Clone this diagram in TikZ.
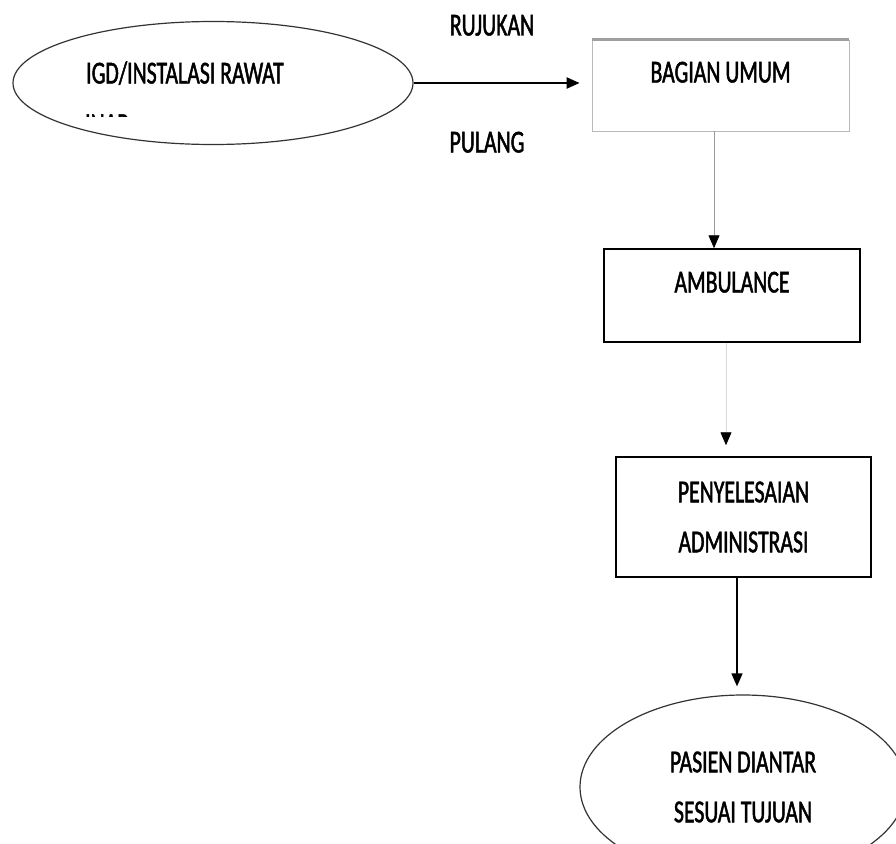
\documentclass[tikz,border=0pt]{standalone}
\usepackage{fontspec}
\setmainfont{Carlito}[FakeStretch=0.68, FakeBold=1.5]
\usepackage{tikz}
\usetikzlibrary{arrows.meta, shapes, positioning, calc}
\newcommand{\flowfont}{\fontsize{32pt}{50pt}\selectfont}
\tikzset{
    procbox/.style = {draw, rectangle, line width=1.5pt, inner sep=0em, node distance=0em, font=\flowfont},
    upperbox/.style = {procbox, text height=21pt, text depth=27pt},
    ellipsenode/.style = {draw=black!80, ellipse, line width=1.2pt, inner sep=0em, node distance=0em,
      font=\flowfont, align=center},
    textnode/.style = {draw=none, fill=none, rectangle, inner sep=0em, node distance=0em,
      text height=21pt, text depth=0pt, font=\flowfont},
    connect/.style = {black, line width=1.5pt, -{Triangle[length=13pt, width=11pt, color=black]}}
}

\begin{document}
\begin{tikzpicture}[x=1pt, y=-1pt]
\useasboundingbox (0,0) rectangle (896,843);
\clip (0,0) rectangle (896,843);

\node [ellipsenode, name=igd, minimum width=400pt, minimum height=123pt] at (213,83) {};
\node [textnode, name=igdtext, anchor=west] at (86,73) {IGD/INSTALASI RAWAT};
\begin{scope}
\clip (60,100) rectangle (300,116);
\node [textnode, name=inap, anchor=west] at (85,124.5) {INAP};
\end{scope}

\node [upperbox, name=bagian, draw=gray!55, line width=0.8pt, minimum width=257pt, minimum height=91pt,
    right of = igd, xshift=507.5pt, yshift=-2.5pt] {BAGIAN UMUM};
\draw [gray!75, line width=3pt] (bagian.north west) -- (bagian.north east);

\node [upperbox, name=ambulance, minimum width=256pt, minimum height=93pt,
    below of = bagian, xshift=11.5pt, yshift=-210pt] {AMBULANCE};
\node [procbox, name=penyelesaian, align=center, minimum width=255pt, minimum height=120pt,
    below of = ambulance, xshift=11.5pt, yshift=-221.5pt] {PENYELESAIAN\\ADMINISTRASI};
\node [ellipsenode, name=pasien, minimum width=326pt, minimum height=184pt,
    below of = penyelesaian, xshift=-0.5pt, yshift=-270pt] {PASIEN DIANTAR\\SESUAI TUJUAN};

\node [textnode, name=rujukan] at (492,25) {RUJUKAN};
\node [textnode, name=pulang] at (487,142) {PULANG};

\draw (igd.east) edge[connect, line width=2.2pt, shorten >=12pt] (igd.east -| bagian.west);
\draw ([xshift=-6.5pt]bagian.south) edge[connect, draw=gray!80, line width=0.8pt]
    ([xshift=-6.5pt]bagian.south |- ambulance.north);
\draw ([xshift=-6pt]ambulance.south) edge[connect, draw=gray!30, line width=0.8pt, shorten >=11pt]
    ([xshift=-6pt]ambulance.south |- penyelesaian.north);
\draw ([xshift=-6.5pt]penyelesaian.south) edge[connect, shorten >=8pt]
    ([xshift=-6.5pt]penyelesaian.south |- pasien.north);
\end{tikzpicture}
\end{document}
